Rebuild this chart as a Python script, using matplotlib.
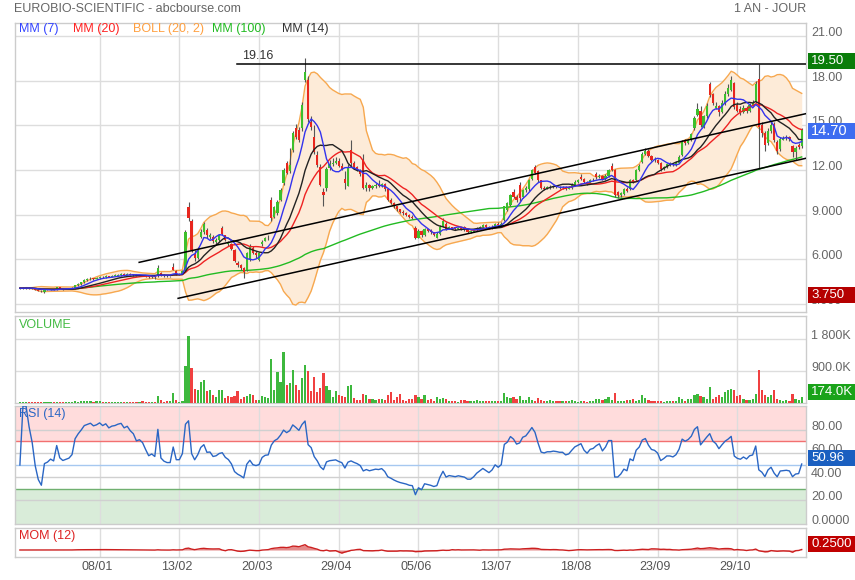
import numpy as np
import pandas as pd
import matplotlib
matplotlib.use("Agg")
import matplotlib.pyplot as plt
from matplotlib.patches import Rectangle

plt.rcParams['font.family'] = ['Liberation Sans', 'DejaVu Sans']

# ---------------- data ----------------
opens = [
4.03,4.05,4.06,4.08,4.05,4.02,3.95,3.88,3.82,3.95,
3.96,3.98,3.97,4.10,4.02,4.00,4.01,4.02,4.05,4.25,
4.35,4.45,4.60,4.65,4.70,4.68,4.72,4.80,4.78,4.85,
4.82,4.88,4.90,4.95,5.02,4.95,5.02,4.99,4.95,4.90,
4.94,4.90,4.85,4.80,4.82,4.85,5.10,4.95,4.88,4.85,
5.50,5.20,5.00,5.00,5.20,9.50,8.55,6.35,6.10,7.50,
7.85,7.95,7.50,7.50,7.15,7.30,8.10,7.60,7.00,7.05,
6.65,5.75,5.60,5.40,5.30,6.00,6.75,6.40,5.95,7.00,
7.25,7.40,9.95,8.86,9.10,10.00,11.10,12.45,11.90,13.36,
14.80,14.70,14.80,18.05,18.06,15.20,14.24,13.00,12.22,10.55,
10.77,12.15,12.40,12.50,12.60,12.30,11.40,10.95,13.35,12.45,
12.20,12.00,12.67,10.80,11.00,10.80,10.90,11.00,10.95,11.05,
10.70,10.00,9.80,9.55,9.35,9.20,9.10,9.00,8.85,8.10,
7.45,7.90,7.60,8.00,7.95,7.80,7.45,7.70,8.20,8.40,
8.05,8.15,8.15,8.05,8.10,8.20,8.00,7.85,7.85,7.95,
8.10,8.20,8.30,8.20,8.10,8.20,8.40,8.30,8.65,9.30,
9.65,10.55,10.20,11.00,10.20,10.65,10.70,11.40,12.20,11.90,
11.30,10.80,10.75,10.85,10.85,10.90,10.88,10.85,10.85,10.75,
10.80,11.00,11.20,11.55,11.40,11.20,11.10,11.30,11.70,11.50,
11.60,11.40,11.60,12.30,12.00,10.50,10.30,10.40,10.75,10.70,
11.30,11.30,12.00,12.55,13.10,13.30,12.95,12.70,12.65,12.50,
12.05,12.20,12.40,12.40,12.35,12.50,13.00,13.95,13.80,14.00,
14.80,15.70,16.00,14.90,15.60,17.80,17.10,16.20,16.30,15.90,
16.50,17.10,17.40,17.85,16.40,16.10,15.90,16.20,16.00,16.40,
16.60,18.10,15.00,14.50,13.80,14.60,15.10,13.90,13.40,14.05,
14.15,14.25,13.60,13.20,13.70,13.60]

highs = [
4.10,4.10,4.12,4.10,4.07,4.03,3.97,3.90,4.00,4.00,
4.02,4.02,4.15,4.12,4.05,4.05,4.06,4.10,4.30,4.40,
4.50,4.65,4.72,4.78,4.75,4.80,4.88,4.85,4.92,4.90,
4.95,4.98,5.02,5.05,5.05,5.08,5.05,5.02,4.98,4.97,
4.96,4.92,4.88,4.88,4.85,5.60,5.15,5.00,4.92,4.90,
5.75,5.25,5.08,5.25,7.95,9.85,8.70,6.60,6.80,8.00,
8.50,8.10,7.75,7.60,7.40,7.70,8.25,7.65,7.20,7.10,
6.70,5.85,5.65,5.45,6.50,7.00,6.90,6.55,6.50,7.30,
7.50,7.60,10.20,9.60,9.95,10.80,12.15,12.60,13.50,14.60,
15.10,14.90,16.60,19.50,18.30,15.60,15.00,13.30,12.40,10.80,
12.20,12.70,12.80,12.90,12.80,12.45,11.90,12.40,14.00,12.60,
12.30,12.10,13.10,11.20,11.05,11.00,11.10,11.30,11.15,11.10,
10.75,10.10,9.85,9.60,9.40,9.30,9.20,9.05,8.95,8.25,
8.00,7.95,8.10,8.05,8.00,7.85,7.80,8.30,8.75,8.50,
8.25,8.20,8.20,8.20,8.15,8.25,8.05,7.95,8.00,8.15,
8.25,8.40,8.35,8.25,8.30,8.45,8.50,8.50,9.60,9.85,
10.40,10.70,10.30,11.20,10.75,10.90,11.40,12.10,12.35,12.00,
11.35,10.95,10.95,11.00,11.00,11.00,10.95,10.95,10.90,10.90,
11.10,11.30,11.40,11.70,11.45,11.25,11.40,11.45,11.85,11.75,
11.65,11.70,12.10,12.45,12.10,10.60,10.55,10.80,10.85,11.40,
11.40,12.10,12.40,13.20,13.50,13.40,13.00,12.90,12.75,12.55,
12.30,12.50,12.55,12.50,12.60,13.00,14.00,14.10,14.10,14.50,
15.60,16.50,16.30,15.70,16.50,17.90,17.20,16.60,16.40,16.70,
17.30,17.80,18.30,17.95,16.60,16.30,16.40,16.30,16.50,16.70,
18.00,19.16,15.20,14.60,14.80,15.20,15.20,14.00,14.20,14.30,
14.35,14.30,13.70,13.60,13.80,14.80]

lows = [
4.00,4.02,4.03,4.00,3.98,3.92,3.85,3.80,3.75,3.90,
3.92,3.93,3.95,3.98,3.96,3.97,3.98,4.00,4.03,4.20,
4.30,4.42,4.55,4.60,4.62,4.65,4.70,4.72,4.75,4.78,
4.80,4.85,4.88,4.90,4.90,4.92,4.92,4.90,4.85,4.86,
4.85,4.80,4.75,4.77,4.70,4.80,4.90,4.82,4.80,4.80,
5.25,4.95,4.92,4.98,5.15,8.60,6.50,5.90,6.00,7.40,
7.70,7.45,7.35,7.10,7.05,7.25,7.60,7.20,6.90,6.60,
5.80,5.50,5.30,4.75,5.20,5.90,6.35,6.10,5.90,6.90,
7.20,7.30,8.60,8.80,8.95,9.90,11.00,11.70,11.80,13.20,
14.10,13.90,14.60,17.90,15.20,14.70,13.10,12.20,10.90,9.60,
10.60,12.00,12.30,12.40,12.20,12.00,10.70,10.90,12.30,12.10,
11.90,11.60,10.70,10.60,10.60,10.70,10.80,10.85,10.85,10.60,
9.90,9.70,9.45,9.25,9.10,9.00,8.90,8.75,8.70,7.35,
7.40,7.50,7.55,7.80,7.70,7.55,7.40,7.65,8.15,7.95,
8.00,8.00,7.95,8.00,7.95,7.90,7.75,7.75,7.80,7.90,
8.05,8.15,8.10,8.00,8.05,8.15,8.25,8.25,8.55,9.25,
9.60,10.10,9.85,9.90,10.10,10.55,10.60,11.30,11.70,11.20,
10.70,10.65,10.70,10.75,10.80,10.80,10.75,10.75,10.65,10.70,
10.75,10.95,11.15,11.35,11.10,11.00,11.05,11.25,11.40,11.45,
11.30,11.35,11.55,11.90,10.20,10.15,10.20,10.35,10.50,10.65,
11.10,11.25,11.95,12.50,13.00,12.90,12.60,12.55,12.40,11.95,
12.00,12.15,12.30,12.25,12.30,12.45,12.95,13.70,13.75,13.95,
14.70,15.60,14.90,14.80,15.50,16.90,16.40,16.10,15.60,15.80,
16.40,17.00,17.30,16.10,15.90,15.70,15.80,15.85,15.90,16.30,
16.50,12.05,14.20,13.30,13.70,14.50,13.90,13.10,13.30,14.00,
14.05,13.95,12.90,12.70,13.40,13.50]

closes = [
4.05,4.06,4.08,4.05,4.02,3.95,3.88,3.84,3.95,3.96,
3.98,3.97,4.10,4.02,4.00,4.01,4.02,4.05,4.25,4.35,
4.45,4.60,4.65,4.70,4.68,4.72,4.80,4.78,4.85,4.82,
4.88,4.90,4.95,4.98,4.95,5.00,4.97,4.95,4.90,4.92,
4.90,4.85,4.80,4.82,4.80,5.40,4.95,4.88,4.85,4.85,
5.30,5.00,5.00,5.20,7.85,8.77,6.65,6.05,6.70,7.85,
8.35,7.60,7.65,7.20,7.30,7.60,7.70,7.30,7.10,6.70,
5.90,5.60,5.40,5.15,6.40,6.85,6.40,6.30,6.40,7.15,
7.40,7.45,8.75,9.50,9.85,10.65,12.00,11.80,12.35,14.47,
14.25,14.00,16.40,18.60,15.40,14.90,13.23,12.33,10.99,10.30,
12.10,12.40,12.50,12.60,12.30,12.10,11.10,12.20,12.45,12.20,
12.00,11.70,10.80,11.00,10.80,10.90,11.00,10.95,11.05,10.70,
10.00,9.80,9.55,9.35,9.20,9.10,9.00,8.85,8.80,7.45,
7.90,7.60,8.00,7.90,7.80,7.65,7.70,8.20,8.60,8.05,
8.15,8.10,8.05,8.10,8.05,8.00,7.85,7.85,7.95,8.10,
8.20,8.30,8.20,8.10,8.20,8.40,8.30,8.40,9.55,9.75,
10.30,10.20,10.00,10.10,10.65,10.80,11.30,12.00,11.80,11.30,
10.80,10.75,10.85,10.85,10.90,10.88,10.85,10.85,10.75,10.80,
11.00,11.20,11.30,11.40,11.20,11.10,11.30,11.35,11.50,11.60,
11.40,11.60,12.00,12.00,10.30,10.30,10.45,10.70,10.60,11.30,
11.20,12.00,12.30,13.10,13.30,12.95,12.70,12.65,12.50,12.05,
12.20,12.40,12.40,12.35,12.50,12.90,13.90,13.80,14.00,14.40,
15.50,16.10,15.00,15.60,16.30,17.05,16.50,16.30,15.90,16.50,
17.10,17.50,18.05,16.26,16.00,15.90,16.20,16.00,16.40,16.50,
17.80,14.90,14.50,13.70,14.60,15.00,14.00,13.30,14.10,14.15,
14.20,14.10,13.20,13.50,13.55,14.70]

volumes_k = [
30,25,20,30,25,35,30,25,40,20,
25,30,35,20,25,20,30,25,45,40,
55,60,50,65,40,55,70,40,30,35,
30,25,35,30,40,25,30,20,25,30,
47,25,30,25,35,188,94,28,47,56,
281,75,28,47,1050,1875,994,403,356,590,
637,328,375,234,169,356,375,141,188,159,
188,328,113,159,206,262,234,75,94,206,
169,141,1240,356,872,581,1425,497,553,919,
515,356,712,1080,890,328,731,300,431,834,
469,375,169,328,216,188,169,478,497,141,
75,94,262,234,103,122,75,113,103,75,
216,300,94,169,262,75,56,112,122,234,
169,122,234,75,122,56,169,122,150,112,
56,56,56,30,94,75,56,56,56,75,
56,47,56,56,47,56,47,47,281,169,
150,169,122,197,94,94,169,94,47,141,
75,56,47,75,56,56,56,47,47,56,
75,56,37,56,56,37,56,56,112,112,
75,103,169,94,281,56,47,56,94,75,
122,56,75,216,150,75,56,47,56,47,
28,47,56,47,56,169,103,47,122,122,
216,262,188,169,122,450,122,169,216,169,
309,356,403,356,188,234,122,94,94,122,
262,919,375,216,169,216,375,122,75,56,
75,56,244,122,75,174]

tick_idx = [26, 52, 78, 104, 130, 156, 182, 208, 234]
tick_labels = ['08/01', '13/02', '20/03', '29/04', '05/06', '13/07', '18/08', '23/09', '29/10']

price_ticks = [21, 18, 15, 12, 9, 6, 3]
price_tick_labels = ['21.00', '18.00', '15.00', '12.00', '9.000', '6.000', '3.000']
vol_ticks = [1.8e6, 0.9e6]
vol_tick_labels = ['1 800K', '900.0K']
rsi_ticks = [80, 60, 40, 20, 0]
rsi_tick_labels = ['80.00', '60.00', '40.00', '20.00', '0.0000']

upper_channel = [(38.9, 5.79), (256.4, 15.79)]
lower_channel = [(51.6, 3.37), (256.4, 12.79)]
resistance_start = 70.8
resistance_level = 19.16
last_rsi_label = '50.96'
last_mom_label = '0.2500'
last_vol_label = '174.0K'

# ---------------- computations ----------------
N = len(closes)
for arr in (opens, highs, lows, volumes_k):
    assert len(arr) == N
x = np.arange(N)
o = np.array(opens); h = np.array(highs); l = np.array(lows); c = np.array(closes)
v = np.array(volumes_k) * 1000.0
s = pd.Series(c)
ma7 = s.rolling(7, min_periods=1).mean()
ma14 = s.rolling(14, min_periods=1).mean()
ma20 = s.rolling(20, min_periods=1).mean()
ma100 = s.rolling(100, min_periods=1).mean()
sd20 = s.rolling(20, min_periods=1).std(ddof=0)
bb_up = ma20 + 2 * sd20
bb_lo = ma20 - 2 * sd20

d = s.diff()
gain = d.clip(lower=0).iloc[1:]
loss = (-d).clip(lower=0).iloc[1:]
ag = gain.ewm(alpha=1/14, adjust=False).mean()
al = loss.ewm(alpha=1/14, adjust=False).mean()
rsi_tail = np.where(al.values == 0, 100.0, 100 - 100 / (1 + ag.values / np.where(al.values == 0, 1, al.values)))
rsi = np.concatenate([[50.0], rsi_tail])
mom = (s - s.shift(12)).fillna(0).values

# ---------------- figure ----------------
W, H = 855, 580
fig = plt.figure(figsize=(W/100, H/100), dpi=100)
fig.patch.set_facecolor('white')

def rect(x0, y0, x1, y1):
    return [x0/W, 1 - y1/H, (x1-x0)/W, (y1-y0)/H]

ax_p = fig.add_axes(rect(15, 23, 806, 312))
ax_v = fig.add_axes(rect(15, 316, 806, 403))
ax_r = fig.add_axes(rect(15, 406, 806, 524))
ax_m = fig.add_axes(rect(15, 528, 806, 557))

XL = (-1.6, 256.4)
GRID = '#dddddd'
for ax in (ax_p, ax_v, ax_r, ax_m):
    ax.set_xlim(*XL)
    ax.tick_params(left=False, right=False, bottom=False, top=False,
                   labelleft=False, labelbottom=False)
    for sp in ax.spines.values():
        sp.set_color('#cccccc'); sp.set_linewidth(1)
    for t in tick_idx:
        ax.axvline(t, color=GRID, lw=1, zorder=0.5)

ax_p.set_ylim(2.451, 21.886)
ax_v.set_ylim(0, 2.447e6)
ax_r.set_ylim(0, 100)
ax_m.set_ylim(-14.7, 46.2)

for yv in price_ticks:
    ax_p.axhline(yv, color=GRID, lw=1, zorder=0.5)
for yv in vol_ticks:
    ax_v.axhline(yv, color=GRID, lw=1, zorder=0.5)

# price panel
ax_p.fill_between(x, bb_lo, bb_up, color='#fdebd8', zorder=1, lw=0)
ax_p.plot(x, bb_up, color='#f7a84f', lw=1, zorder=2)
ax_p.plot(x, bb_lo, color='#f7a84f', lw=1, zorder=2)
ax_p.plot(x, ma100, color='#22bb22', lw=1, zorder=3)

GREEN = '#3cbf2c'; RED = '#e8261e'
cols = np.where(c >= o, GREEN, RED)
ax_p.vlines(x, l, h, color='#555555', lw=0.8, zorder=4)
body_b = np.minimum(o, c)
body_h = np.maximum(np.abs(c - o), 0.04)
ax_p.bar(x, body_h, bottom=body_b, width=0.72, color=cols, lw=0, zorder=5)

ax_p.plot(x, ma20, color='#ee2222', lw=1, zorder=6)
ax_p.plot(x, ma14, color='#222222', lw=1, zorder=6)
ax_p.plot(x, ma7, color='#3333ee', lw=1, zorder=6)

for seg in (upper_channel, lower_channel):
    ax_p.plot([seg[0][0], seg[1][0]], [seg[0][1], seg[1][1]], color='black', lw=1.1, zorder=7)
ax_p.plot([resistance_start, XL[1]], [resistance_level, resistance_level], color='black', lw=1.1, zorder=7)
ax_p.text(resistance_start + 1.6, resistance_level + 0.12, f'{resistance_level:.2f}',
          fontsize=9, color='#333333', ha='left', va='bottom', zorder=8)

# volume
vcols = np.where(np.concatenate([[True], c[1:] >= c[:-1]]), '#3db83d', '#f04040')
ax_v.bar(x, v, width=0.72, color=vcols, lw=0, zorder=3)

# RSI
ax_r.axhspan(70, 100, color='#ffdcdc', zorder=0.2, lw=0)
ax_r.axhspan(0, 30, color='#d9ecd9', zorder=0.2, lw=0)
for yv in (20, 40, 60, 80):
    ax_r.axhline(yv, color='#d0d0d0', lw=1, zorder=0.6)
ax_r.axhline(70, color='#f27070', lw=1, zorder=1)
ax_r.axhline(30, color='#70b070', lw=1, zorder=1)
ax_r.axhline(50, color='#a6c8f0', lw=1, zorder=1)
ax_r.plot(x, rsi, color='#2a66c4', lw=1, zorder=3)

# MOM
ax_m.fill_between(x, mom, 0, color='#e58a8a', lw=0, zorder=1)
ax_m.plot(x, mom, color='#cc2020', lw=1, zorder=2)

# ---------------- texts ----------------
def ftext(px, py, txt, **kw):
    fig.text(px/W, 1 - py/H, txt, **kw)

def v2py(ax, val):
    return H - ax.transData.transform((0, val))[1]

def i2px(ax, idx):
    return ax.transData.transform((idx, 0))[0]

GRAY = '#666666'
ftext(14, 9, 'EUROBIO-SCIENTIFIC - abcbourse.com', fontsize=9, color=GRAY, va='center', ha='left')
ftext(806, 9, '1 AN - JOUR', fontsize=9, color=GRAY, va='center', ha='right')

legend = [('MM (7)', '#3344ff', 19), ('MM (20)', '#ff2222', 72.7), ('BOLL (20, 2)', '#ffa040', 132.7),
          ('MM (100)', '#22bb22', 212.3), ('MM (14)', '#333333', 282.3)]
for txt, col, px in legend:
    ftext(px, 29.3, txt, fontsize=9, color=col, va='center', ha='left')

ftext(19, 324.5, 'VOLUME', fontsize=9, color='#44bb44', va='center', ha='left')
ftext(19, 414, 'RSI (14)', fontsize=9, color='#2a66c4', va='center', ha='left')
ftext(19, 536, 'MOM (12)', fontsize=9, color='#dd2222', va='center', ha='left')

for ax, ticks, labs in ((ax_p, price_ticks, price_tick_labels),
                        (ax_v, vol_ticks, vol_tick_labels),
                        (ax_r, rsi_ticks, rsi_tick_labels)):
    for tv, lab in zip(ticks, labs):
        ftext(811, v2py(ax, tv) - 3, lab, fontsize=9, color=GRAY, va='center', ha='left', zorder=3)

for ti, lab in zip(tick_idx, tick_labels):
    ftext(i2px(ax_m, ti) - 2.5, 567, lab, fontsize=9, color='#555555', va='center', ha='center')

def box(py, txt, col, fs=9.5):
    fig.add_artist(Rectangle((807.5/W, 1 - (py + 8)/H), 47.5/W, 16/H, transform=fig.transFigure,
                             facecolor=col, edgecolor='none', zorder=5))
    ftext(811, py, txt, fontsize=fs, color='white', va='center', ha='left', zorder=6)

box(v2py(ax_p, max(highs)) + 3, f'{max(highs):.2f}', '#0a7d0a')
box(v2py(ax_p, closes[-1]) + 1, f'{closes[-1]:.2f}', '#3d6df0', fs=10.5)
box(v2py(ax_p, min(lows)) + 2, f'{min(lows):.3f}', '#b50000')
box(v2py(ax_v, volumes_k[-1] * 1000) - 5, last_vol_label, '#1aa31a')
box(v2py(ax_r, float(last_rsi_label)) - 6, last_rsi_label, '#1a5fc0')
box(544, last_mom_label, '#c00000')

fig.savefig('out.png', dpi=100)
